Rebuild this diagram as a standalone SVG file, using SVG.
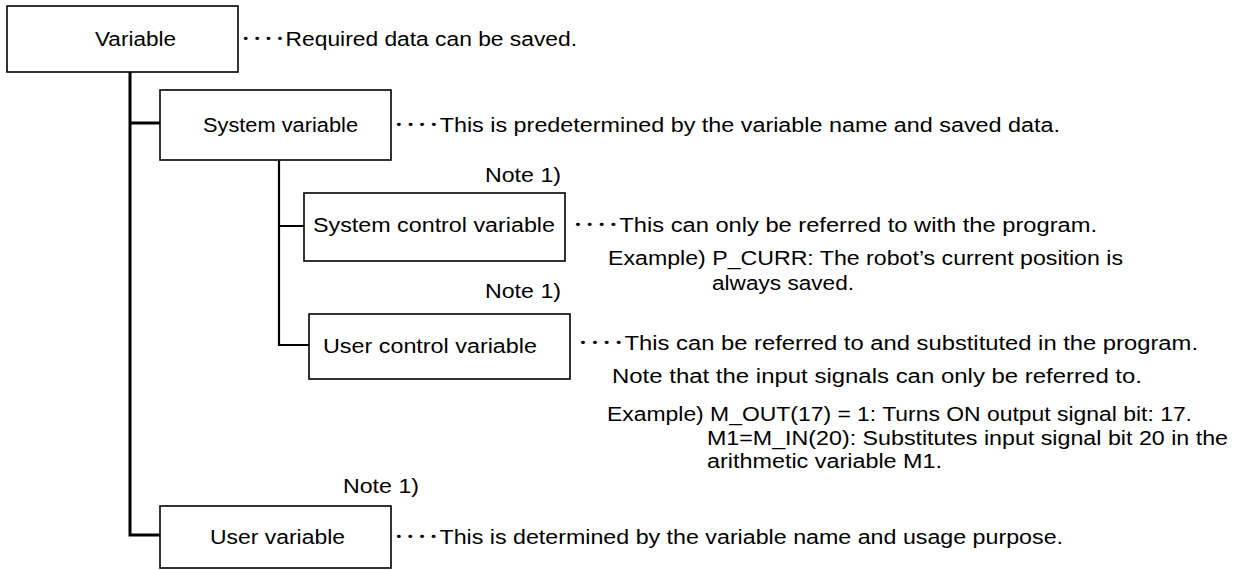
<svg xmlns="http://www.w3.org/2000/svg" width="1244" height="570" viewBox="0 0 1244 570">
<style>
  .box { fill: #fff; stroke: #000; stroke-width: 1.6; }
  .t { font-family: "Liberation Sans", "Noto Sans CJK JP", sans-serif; font-size: 20px; fill: #000; }
  .thick { stroke: #000; stroke-width: 3; fill: none; }
  .thin { stroke: #000; stroke-width: 2.2; fill: none; }
</style>
<rect width="1244" height="570" fill="#fff"/>
<g id="connectors">
  <path class="thick" d="M130 72 V535 H160 M130 123 H160"/>
  <path class="thin" d="M279 160 V345 H309 M279 226 H304"/>
</g>
<g id="node-variable">
  <rect class="box" x="7" y="6" width="231" height="66"/>
  <text class="t" x="95" y="46" textLength="81" lengthAdjust="spacingAndGlyphs">Variable</text>
  <text class="t" x="240" y="46" textLength="337" lengthAdjust="spacingAndGlyphs">････Required data can be saved.</text>
</g>
<g id="node-system-variable">
  <rect class="box" x="160" y="90" width="231" height="70"/>
  <text class="t" x="203" y="132" textLength="155" lengthAdjust="spacingAndGlyphs">System variable</text>
  <text class="t" x="393" y="132" textLength="667" lengthAdjust="spacingAndGlyphs">････This is predetermined by the variable name and saved data.</text>
</g>
<g id="node-system-control-variable">
  <text class="t" x="485" y="182" textLength="76" lengthAdjust="spacingAndGlyphs">Note 1)</text>
  <rect class="box" x="304" y="193" width="261" height="68"/>
  <text class="t" x="313" y="232" textLength="242" lengthAdjust="spacingAndGlyphs">System control variable</text>
  <text class="t" x="572" y="232" textLength="525" lengthAdjust="spacingAndGlyphs">････This can only be referred to with the program.</text>
  <text class="t" x="608" y="265" textLength="515" lengthAdjust="spacingAndGlyphs">Example) P_CURR: The robot’s current position is</text>
  <text class="t" x="712" y="290" textLength="142" lengthAdjust="spacingAndGlyphs">always saved.</text>
</g>
<g id="node-user-control-variable">
  <text class="t" x="485" y="298" textLength="76" lengthAdjust="spacingAndGlyphs">Note 1)</text>
  <rect class="box" x="309" y="314" width="261" height="65"/>
  <text class="t" x="323" y="353" textLength="214" lengthAdjust="spacingAndGlyphs">User control variable</text>
  <text class="t" x="577" y="350" textLength="621" lengthAdjust="spacingAndGlyphs">････This can be referred to and substituted in the program.</text>
  <text class="t" x="612" y="383" textLength="530" lengthAdjust="spacingAndGlyphs">Note that the input signals can only be referred to.</text>
  <text class="t" x="607" y="421" textLength="585" lengthAdjust="spacingAndGlyphs">Example) M_OUT(17) = 1: Turns ON output signal bit: 17.</text>
  <text class="t" x="707" y="445" textLength="521" lengthAdjust="spacingAndGlyphs">M1=M_IN(20): Substitutes input signal bit 20 in the</text>
  <text class="t" x="707" y="468" textLength="235" lengthAdjust="spacingAndGlyphs">arithmetic variable M1.</text>
</g>
<g id="node-user-variable">
  <text class="t" x="343" y="493" textLength="76" lengthAdjust="spacingAndGlyphs">Note 1)</text>
  <rect class="box" x="160" y="506" width="231" height="62"/>
  <text class="t" x="210" y="544" textLength="135" lengthAdjust="spacingAndGlyphs">User variable</text>
  <text class="t" x="393" y="544" textLength="670" lengthAdjust="spacingAndGlyphs">････This is determined by the variable name and usage purpose.</text>
</g>
</svg>
